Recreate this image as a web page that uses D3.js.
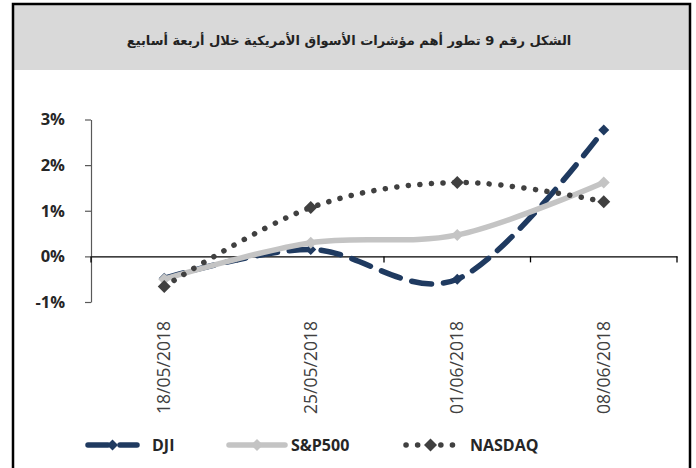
<!DOCTYPE html>
<html><head><meta charset="utf-8">
<script src="https://cdn.jsdelivr.net/npm/d3@7/dist/d3.min.js"></script>
<style>body{margin:0;background:#fff}svg{display:block}</style>
</head><body>
<svg id="c" width="696" height="468"></svg>
<script>
const title = "الشكل رقم 9 تطور أهم مؤشرات الأسواق الأمريكية خلال أربعة أسابيع";
const categories = ["18/05/2018", "25/05/2018", "01/06/2018", "08/06/2018"];
const dji = [-0.48, 0.15, -0.5, 2.77];
const sp500 = [-0.5, 0.3, 0.47, 1.62];
const nasdaq = [-0.66, 1.07, 1.62, 1.2];
const yTicks = [-1, 0, 1, 2, 3];
const seriesNames = ["DJI", "S&P500", "NASDAQ"];

const svg = d3.select("#c");
// frame
svg.append("rect").attr("x",14).attr("y",5).attr("width",675).attr("height",65).attr("fill","#d9d9d9");
svg.append("path").attr("d","M13,468 V4 H690 V468").attr("fill","none").attr("stroke","#000").attr("stroke-width",2.5);
svg.append("text").attr("x",349).attr("y",45).attr("text-anchor","middle").attr("direction","rtl")
  .attr("font-family","'DejaVu Sans','Noto Sans',sans-serif").attr("font-weight","bold").attr("font-size",13)
  .attr("fill","#222").text(title);

const x = d3.scaleBand().domain(categories).range([91, 677]);
const y = d3.scaleLinear().domain([-1, 3]).range([302, 119.5]);
const cx = d => x(d) + x.bandwidth()/2;

// y axis
const ya = svg.append("g").attr("transform","translate(91,0)")
  .call(d3.axisLeft(y).tickValues(yTicks).tickSize(6).tickSizeOuter(0).tickFormat(d => d + "%"));
ya.select(".domain").attr("stroke","#595959").attr("stroke-width",1.2);
ya.selectAll(".tick line").attr("stroke","#595959").attr("stroke-width",1.2);
ya.selectAll("text").attr("font-family","'Open Sans',sans-serif").attr("font-weight",700).attr("font-size",16.5)
  .attr("fill","#262626").attr("x",-26);

// x axis at zero
const xa = svg.append("g").attr("transform",`translate(0,${y(0)})`)
  .call(d3.axisBottom(x).tickSize(0).tickSizeOuter(0));
xa.select(".domain").attr("stroke","#000").attr("stroke-width",1.3);
xa.selectAll(".tick text").remove();
// boundary ticks
const bounds = [91].concat(categories.map(c => x(c) + x.bandwidth()));
svg.append("g").selectAll("line").data(bounds).join("line")
  .attr("x1",d=>d).attr("x2",d=>d).attr("y1",y(0)).attr("y2",y(0)+6).attr("stroke","#000").attr("stroke-width",1.3);

// x labels rotated
svg.append("g").selectAll("text").data(categories).join("text")
  .attr("transform", d => `translate(${cx(d)+6},321) rotate(-90)`)
  .attr("text-anchor","end").attr("font-family","'Open Sans',sans-serif").attr("font-size",17.5)
  .attr("fill","#404040").text(d => d);

const line = d3.line().x((d,i)=>cx(categories[i])).y(d=>y(d)).curve(d3.curveCardinal.tension(0));
const diamond = (s) => `M0,${-s} L${s},0 L0,${s} L${-s},0 Z`;

const styles = [
  {data: dji, color:"#1f3a60", width:5.5, dash:"20 12", cap:"round", m:5.5, mcolor:"#1f3a60"},
  {data: sp500, color:"#c4c4c4", width:5.5, dash:null, cap:"round", m:6, mcolor:"#c4c4c4"},
  {data: nasdaq, color:"#404040", width:5.5, dash:"0.1 11.5", cap:"round", m:6.5, mcolor:"#404040"}
];
styles.forEach(s => {
  svg.append("path").datum(s.data).attr("d", line).attr("fill","none").attr("stroke",s.color)
    .attr("stroke-width",s.width).attr("stroke-linecap",s.cap).attr("stroke-dasharray",s.dash);
  svg.append("g").selectAll("path").data(s.data).join("path")
    .attr("transform",(d,i)=>`translate(${cx(categories[i])},${y(d)})`).attr("d",diamond(s.m)).attr("fill",s.mcolor);
});

// legend
const leg = [{x1:85,x2:140,lx:152},{x1:226,x2:288,lx:291},{x1:403,x2:458,lx:470}];
const ly = 445;
styles.forEach((s,i) => {
  const L = leg[i];
  svg.append("line").attr("x1",L.x1+3).attr("x2",L.x2-3).attr("y1",ly).attr("y2",ly)
    .attr("stroke",s.color).attr("stroke-width",s.width).attr("stroke-linecap",s.cap).attr("stroke-dasharray",s.dash);
  svg.append("path").attr("transform",`translate(${(L.x1+L.x2)/2},${ly})`).attr("d",diamond(s.m)).attr("fill",s.mcolor);
  svg.append("text").attr("x",L.lx).attr("y",ly+6).attr("font-family","'Open Sans',sans-serif").attr("font-weight",700)
    .attr("font-size",16).attr("fill","#262626").text(seriesNames[i]);
});
</script>
</body></html>
